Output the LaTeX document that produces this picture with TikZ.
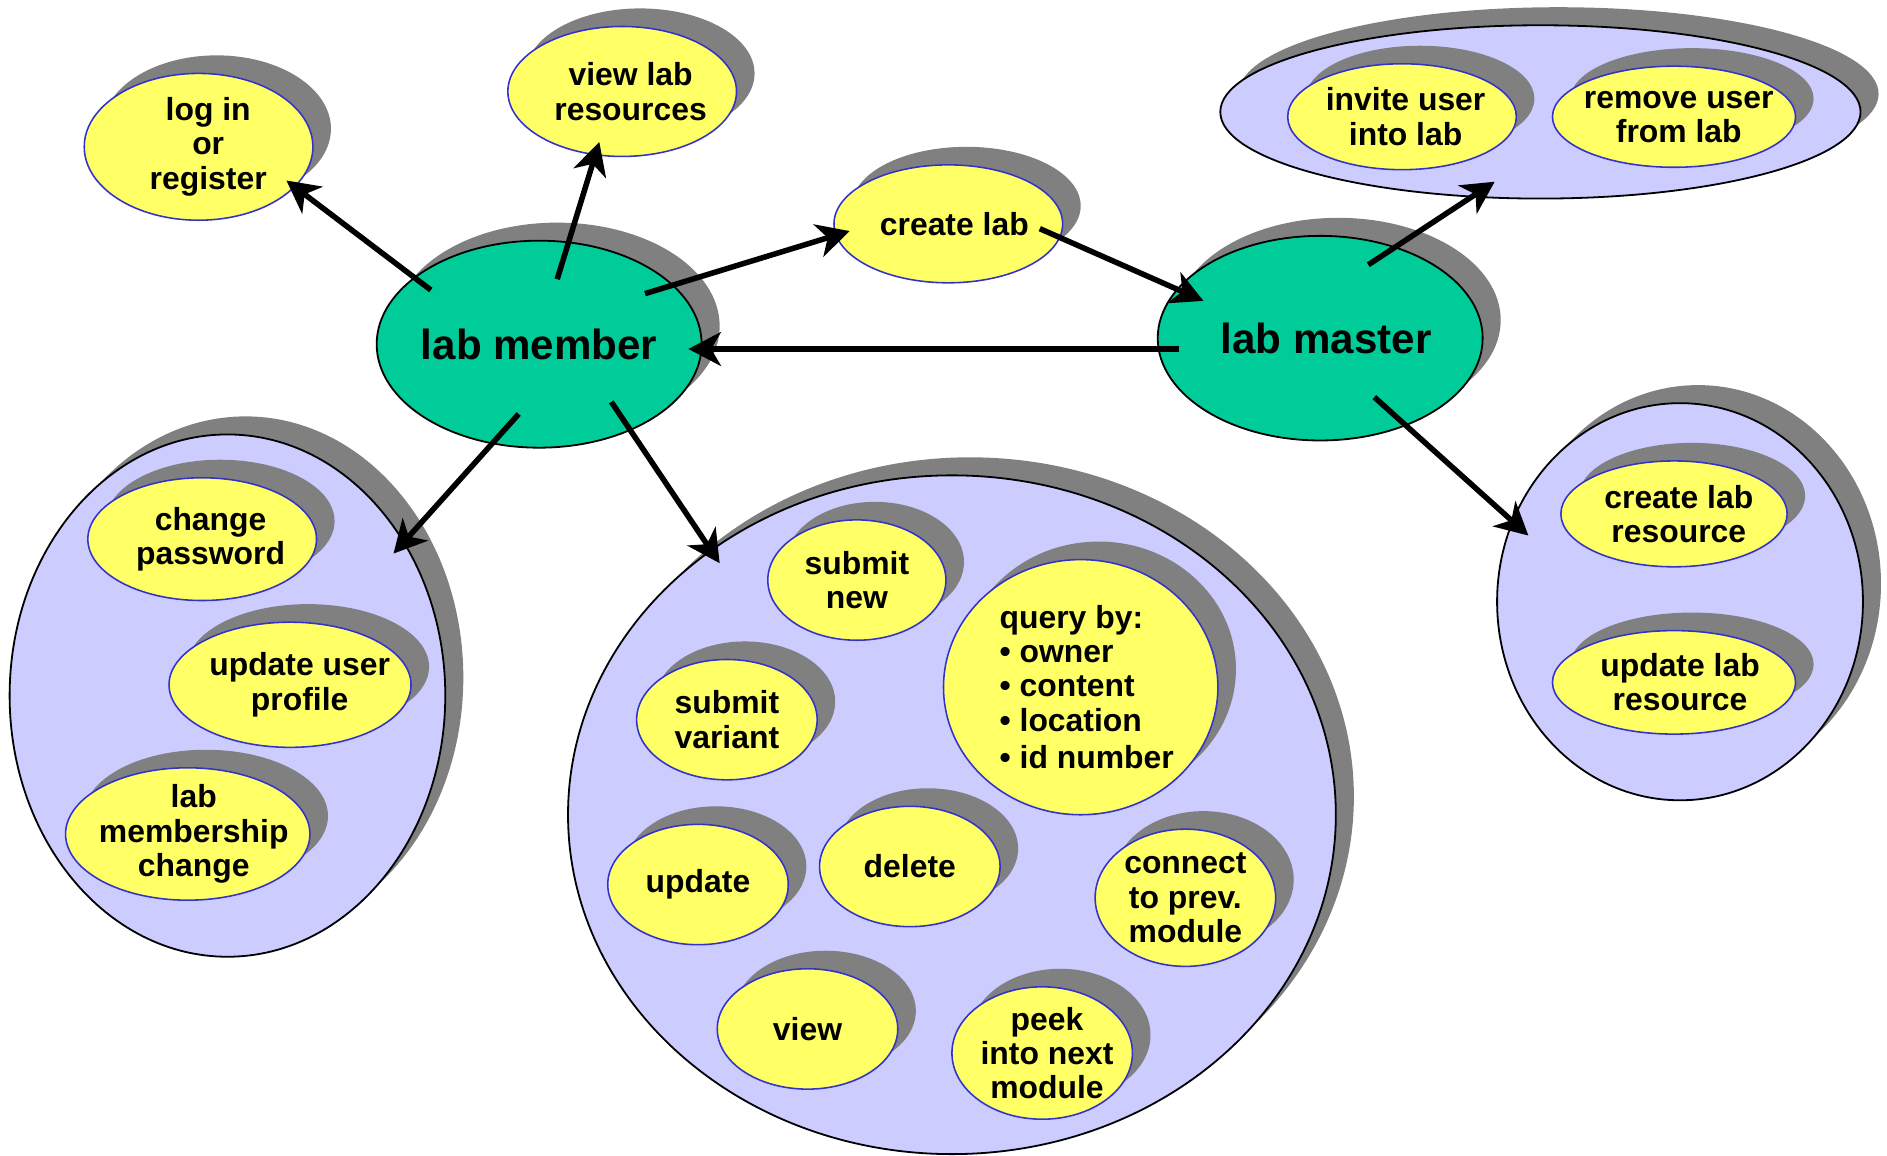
\documentclass[tikz,border=0pt]{standalone}
\usepackage{fontspec}
\setmainfont{Liberation Sans}
\usetikzlibrary{shapes.geometric,shadows,arrows.meta}

\definecolor{actgreen}{RGB}{0,204,153}
\definecolor{taskyel}{RGB}{255,255,102}
\definecolor{grplav}{RGB}{204,204,255}
\definecolor{taskrim}{RGB}{51,51,204}
% text block pushed right by half of #2 (pt)
\newcommand\sh[3][\hfil]{\hspace*{#2pt}\vbox{\let\\\cr\halign{#1##\hfil\cr#3\crcr}}}

\begin{document}
\begin{tikzpicture}[x=1pt,y=-1pt]
\tikzstyle{every node}+=[ellipse, inner sep=-12pt, align=center, font=\fontsize{26.5}{28.5}\selectfont\bfseries]
\tikzstyle{shadowed}=[drop shadow={opacity=1,shadow xshift=15pt,shadow yshift=15pt}]
\tikzstyle{tsk}=[shadowed, draw=taskrim, line width=1.3pt, fill=taskyel]
\tikzstyle{act}=[shadowed, draw=black, line width=1.5pt, fill=actgreen, font=\fontsize{35}{40}\selectfont\bfseries]
\tikzstyle{grp}=[shadowed, draw=black, line width=1.5pt, fill=grplav]
\tikzstyle{arr}=[line width=4.6pt, -{Stealth[length=27pt,width=28pt,inset=8pt]}]
\useasboundingbox (0,0) rectangle (1568,960);
% groups
\node[grp, minimum width=532, minimum height=144] (mastergrp) at (1280,93) {};
\node[grp, minimum width=304, minimum height=330] (resgrp) at (1396,500) {};
\node[grp, minimum width=362, minimum height=434] (profgrp) at (189,578) {};
\node[grp, minimum width=638, minimum height=564] (modgrp) at (791,677) {};
% actors
\node[act, minimum width=270, minimum height=172] (labmember) at (448,286) {lab member};
\node[act, minimum width=270, minimum height=170] (labmaster) at (1097,281) {\sh{10}{lab master}};
% tasks
\node[tsk, minimum width=190, minimum height=122] (login) at (165,122) {\sh{16}{log in\\or\\register}};
\node[tsk, minimum width=190, minimum height=108] (viewres) at (517,76) {\sh{14}{view lab\\resources}};
\node[tsk, minimum width=190, minimum height=98] (createlab) at (788,186) {\sh{10}{create lab}};
\node[tsk, minimum width=190, minimum height=88] (invite) at (1165,97) {\sh{6}{invite user\\into lab}};
\node[tsk, minimum width=202, minimum height=84] (remove) at (1391,97) {\sh{8}{remove user\\from lab}};
\node[tsk, minimum width=188, minimum height=88] (createres) at (1391,427) {\sh{8}{create lab\\resource}};
\node[tsk, minimum width=202, minimum height=86] (updateres) at (1391,567) {\sh{10}{update lab\\resource}};
\node[tsk, minimum width=190, minimum height=102] (passwd) at (168,448) {\sh{14}{change\\password}};
\node[tsk, minimum width=190, minimum height=104] (profile) at (241,569) {\sh{16}{update user\\profile}};
\node[tsk, minimum width=200, minimum height=110] (membership) at (156,693) {\sh{10}{lab\\membership\\change}};
\node[tsk, minimum width=148, minimum height=100] (subnew) at (712,482) {submit\\new};
\node[tsk, minimum width=228, minimum height=212] (query) at (898,571) {\sh[]{10}{query by:\\\textbullet\ owner\\\textbullet\ content\\\textbullet\ location\\\noalign{\kern3pt}\textbullet\ id number}};
\node[tsk, minimum width=150, minimum height=100] (subvar) at (604,598) {submit\\variant};
\node[tsk, minimum width=150, minimum height=100] (update) at (580,735) {update};
\node[tsk, minimum width=150, minimum height=100] (delete) at (756,720) {delete};
\node[tsk, minimum width=150, minimum height=114] (connect) at (985,746) {connect\\to prev.\\module};
\node[tsk, minimum width=150, minimum height=100] (view) at (671,855) {view};
\node[tsk, minimum width=150, minimum height=110] (peek) at (866,875) {\sh{8}{peek\\into next\\module}};
% arrows
\draw[arr] ([shift={(-90,-45)}]labmember.center) -- ([shift={(73,28)}]login.center);
\draw[arr] ([shift={(15,-54)}]labmember.center) -- ([shift={(-19,42)}]viewres.center);
\draw[arr] ([shift={(88,-42)}]labmember.center) -- ([shift={(-82,6)}]createlab.center);
\draw[arr] ([shift={(76,4)}]createlab.center) -- ([shift={(-97,-31)}]labmaster.center);
\draw[arr] ([shift={(-117,9)}]labmaster.center) -- ([shift={(124,4)}]labmember.center);
\draw[arr] ([shift={(40,-61)}]labmaster.center) -- ([shift={(-38,58)}]mastergrp.center);
\draw[arr] ([shift={(45,49)}]labmaster.center) -- ([shift={(-126,-55)}]resgrp.center);
\draw[arr] ([shift={(-17,58)}]labmember.center) -- ([shift={(138,-118)}]profgrp.center);
\draw[arr] ([shift={(60,48)}]labmember.center) -- ([shift={(-193,-209)}]modgrp.center);
\end{tikzpicture}
\end{document}
